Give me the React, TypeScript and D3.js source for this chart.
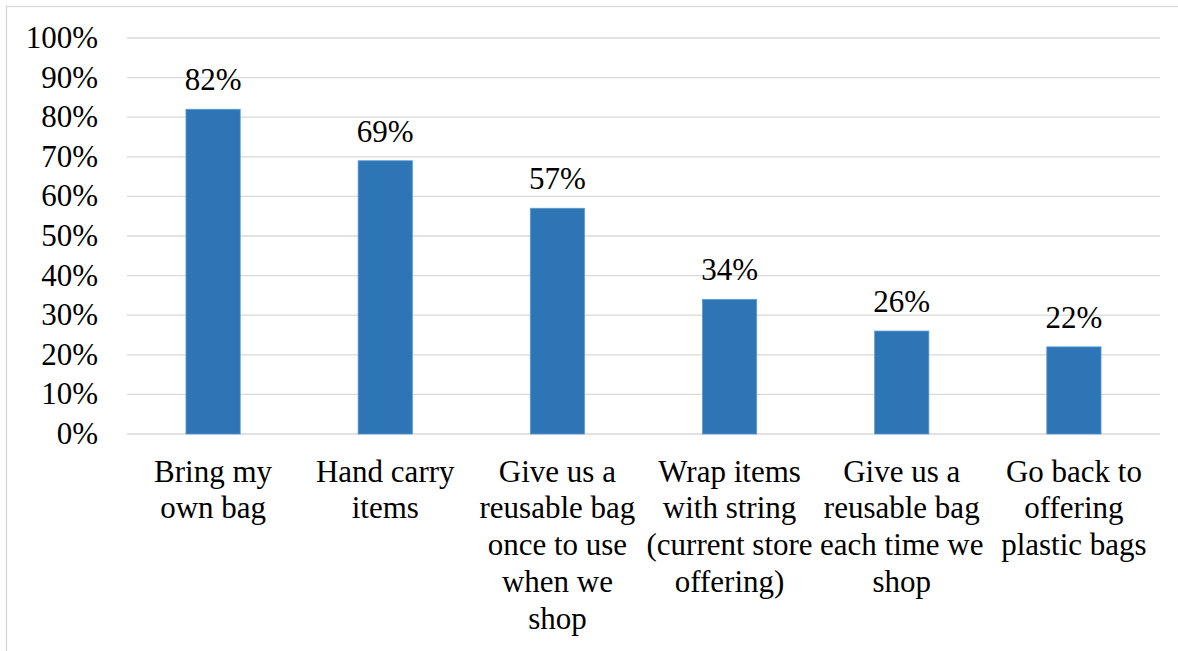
import React from "react";
import * as d3 from "d3";

// Survey responses: preferred way to carry groceries home
const categories: string[] = [
  "Bring my own bag",
  "Hand carry items",
  "Give us a reusable bag once to use when we shop",
  "Wrap items with string (current store offering)",
  "Give us a reusable bag each time we shop",
  "Go back to offering plastic bags",
];

// Wrapped lines for each category label
const categoryLines: string[][] = [
  ["Bring my", "own bag"],
  ["Hand carry", "items"],
  ["Give us a", "reusable bag", "once to use", "when we", "shop"],
  ["Wrap items", "with string", "(current store", "offering)"],
  ["Give us a", "reusable bag", "each time we", "shop"],
  ["Go back to", "offering", "plastic bags"],
];

const values: number[] = [0.82, 0.69, 0.57, 0.34, 0.26, 0.22];

const yTicks: number[] = [0, 0.1, 0.2, 0.3, 0.4, 0.5, 0.6, 0.7, 0.8, 0.9, 1.0];

const W = 1178;
const H = 651;
const FONT = "Liberation Serif, Times New Roman, serif";
const FS = 31;

const left = 127;
const right = 1160;
const top = 38;
const bottom = 434;

const x = d3
  .scaleBand<string>()
  .domain(categories)
  .range([left, right])
  .paddingInner(0.685)
  .paddingOuter(0.3425);

const y = d3.scaleLinear().domain([0, 1]).range([bottom, top]);
const pct = (v: number) => `${Math.round(v * 100)}%`;

export default function App() {
  return (
    <svg
      width={W}
      height={H}
      fontFamily={FONT}
      fontSize={FS}
      style={{ position: "absolute", left: 0, top: 0, background: "white", fontFamily: FONT }}
    >
      {/* chart frame */}
      <rect x={6.5} y={6.5} width={1300} height={800} fill="white" stroke="#D9D9D9" strokeWidth={1.3} />

      {/* gridlines */}
      {yTicks.map((t) => (
        <line key={`g${t}`} x1={left} x2={right} y1={y(t)} y2={y(t)} stroke="#D9D9D9" strokeWidth={1.3} />
      ))}

      {/* y tick labels */}
      {yTicks.map((t) => (
        <text key={`t${t}`} x={98} y={y(t) + 10} fontSize={FS} fontFamily={FONT} textAnchor="end" fill="#000">
          {pct(t)}
        </text>
      ))}

      {/* bars */}
      {values.map((v, i) => (
        <rect
          key={`b${i}`}
          x={x(categories[i])}
          width={x.bandwidth()}
          y={y(v)}
          height={y(0) - y(v)}
          fill="#2E75B6"
          stroke="#5B9BD5"
          strokeWidth={0.8}
        />
      ))}

      {/* value labels */}
      {values.map((v, i) => (
        <text
          key={`v${i}`}
          x={(x(categories[i]) as number) + x.bandwidth() / 2}
          y={y(v) - 19}
          fontSize={FS}
          fontFamily={FONT}
          textAnchor="middle"
          fill="#000"
        >
          {pct(v)}
        </text>
      ))}

      {/* category labels */}
      {categories.map((c, i) => {
        const cx = (x(c) as number) + x.bandwidth() / 2;
        return categoryLines[i].map((l, j) => (
          <text
            key={`c${i}-${j}`}
            x={cx}
            y={481.7 + j * 36.7}
            fontSize={FS}
            fontFamily={FONT}
            textAnchor="middle"
            fill="#000"
          >
            {l}
          </text>
        ));
      })}
    </svg>
  );
}
